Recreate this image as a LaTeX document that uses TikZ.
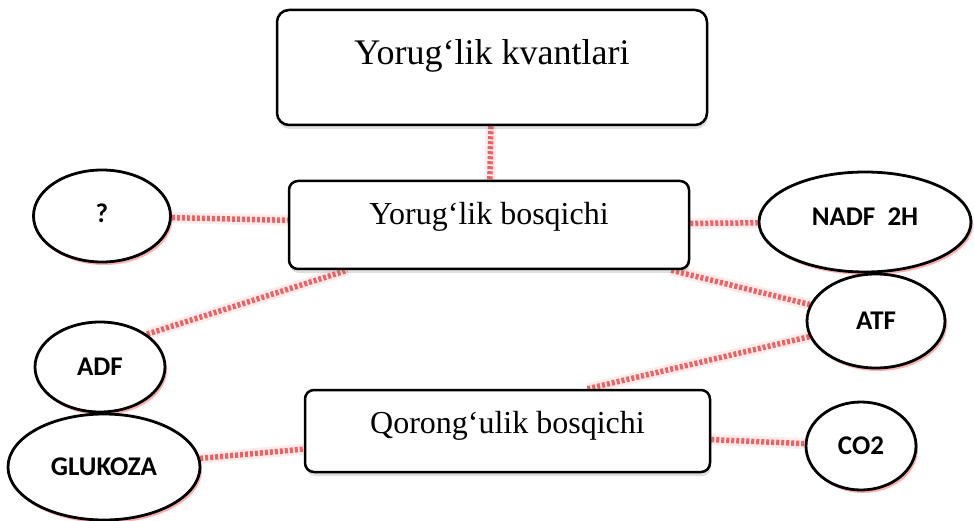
\documentclass[tikz,border=0pt]{standalone}
\usepackage{fontspec}
\setmainfont{Liberation Serif}
\newfontfamily\ovalfont{Carlito}
\usetikzlibrary{shapes.geometric,shadows,backgrounds}
\definecolor{linkred}{RGB}{236,98,98}

\begin{document}
\begin{tikzpicture}[x=1pt,y=-1pt,
    stage/.style={draw,line width=2.5pt,rounded corners=9pt,fill=white,inner sep=0pt,
      font=\fontsize{32}{36}\selectfont,text height=24pt,
      drop shadow={opacity=0.25,shadow xshift=1pt,shadow yshift=-4pt}},
    oval/.style={ellipse,draw,line width=2.8pt,fill=white,inner sep=0pt,
      font=\ovalfont\bfseries\fontsize{27}{30}\selectfont,
      drop shadow={fill=red!70,opacity=0.45,shadow xshift=2pt,shadow yshift=-3pt}},
    link/.style={draw=linkred,line width=5.5pt,dash pattern=on 3pt off 2pt,
      preaction={draw=red!8,solid,line width=11pt}}]
  \useasboundingbox (0,0) rectangle (974,521);

  \node[stage,minimum width=430pt,minimum height=115pt,rounded corners=12pt,
    font=\fontsize{36}{40}\selectfont,text depth=30pt] (kvant) at (492,67.5) {Yorug‘lik kvantlari};
  \node[stage,minimum width=400pt,minimum height=88pt,text depth=25pt] (light) at (489,225) {Yorug‘lik bosqichi};
  \node[stage,minimum width=405pt,minimum height=82pt,text depth=19pt] (dark) at (507.5,431) {Qorong‘ulik bosqichi};

  \node[oval,minimum width=137pt,minimum height=92pt,text depth=6pt] (q) at (102,216) {?};
  \node[oval,minimum width=212pt,minimum height=100pt,text depth=10pt] (nadf) at (865,222) {NADF~~2H};
  \node[oval,minimum width=138pt,minimum height=94pt] (atf) at (876,321) {ATF};
  \node[oval,minimum width=130pt,minimum height=90pt] (adf) at (100,367) {ADF};
  \node[oval,minimum width=192pt,minimum height=106pt] (gluk) at (104,467) {GLUKOZA};
  \node[oval,minimum width=110pt,minimum height=88pt] (co2) at (861,446) {CO2};

  \begin{scope}[on background layer]
    \draw[link] (kvant) -- (light);
    \draw[link] (q) -- (light);
    \draw[link] (light) -- (nadf);
    \draw[link] (adf.north east) -- (light);
    \draw[link] (light) -- (atf);
    \draw[link] (atf) -- ([xshift=80pt]dark.north);
    \draw[link] (gluk) -- (dark);
    \draw[link] (dark) -- (co2);
  \end{scope}
\end{tikzpicture}
\end{document}
